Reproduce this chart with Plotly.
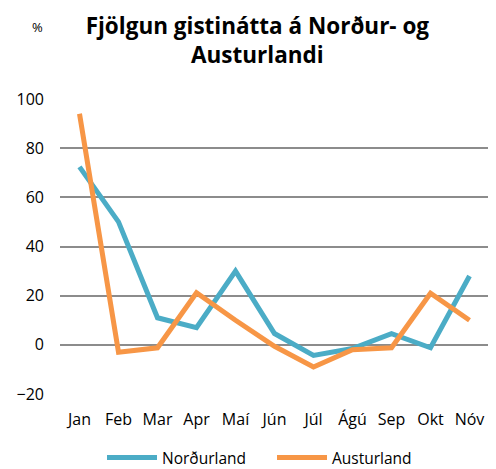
import plotly.graph_objects as go

months = ["Jan", "Feb", "Mar", "Apr", "Maí", "Jún", "Júl", "Ágú", "Sep", "Okt", "Nóv"]
nordurland = [72.4, 50, 11, 7, 30, 4.6, -4.3, -1.5, 4.5, -1.2, 28]
austurland = [94, -3, -1.2, 21.2, 10, -0.6, -9, -2, -1.2, 21, 10]
y_ticks = [-20, 0, 20, 40, 60, 80, 100]

font_family = "Open Sans, Liberation Sans, sans-serif"

fig = go.Figure()
fig.add_trace(go.Scatter(x=months, y=nordurland, mode="lines", name="Norðurland",
                         line=dict(color="#4BACC6", width=5)))
fig.add_trace(go.Scatter(x=months, y=austurland, mode="lines", name="Austurland",
                         line=dict(color="#F79646", width=5)))

fig.update_layout(
    width=488, height=461,
    margin=dict(l=52, r=7, t=91, b=75),
    paper_bgcolor="white", plot_bgcolor="white",
    font=dict(family=font_family, size=16, color="#000000"),
    title=dict(text="<b>Fjölgun gistinátta á Norður- og<br>Austurlandi</b>",
               x=0.511, xanchor="center", y=0.9436, yanchor="middle",
               font=dict(size=22.5, family=font_family, color="#000000")),
    showlegend=True,
    legend=dict(orientation="h", x=0.541, xanchor="center", xref="container",
                y=0.024, yanchor="middle", yref="container",
                font=dict(size=15.5), itemwidth=50,
                entrywidth=105, entrywidthmode="pixels"),
    xaxis=dict(type="category", range=[-0.5, 10.5], showgrid=False, showline=False,
               ticks="", tickfont=dict(size=16), fixedrange=True, ticklabelstandoff=14,
               automargin=False),
    yaxis=dict(range=[-20, 100], tickvals=y_ticks, showgrid=True, gridcolor="#8c8c8c",
               gridwidth=1.5, zeroline=False, showline=False, ticks="",
               tickfont=dict(size=16), ticklabelstandoff=15, automargin=False),
    annotations=[dict(text="%", xref="paper", yref="paper", x=-0.0536, y=1.244,
                      showarrow=False, font=dict(size=13), xanchor="center", yanchor="middle")],
)

fig.write_html("out.html")
